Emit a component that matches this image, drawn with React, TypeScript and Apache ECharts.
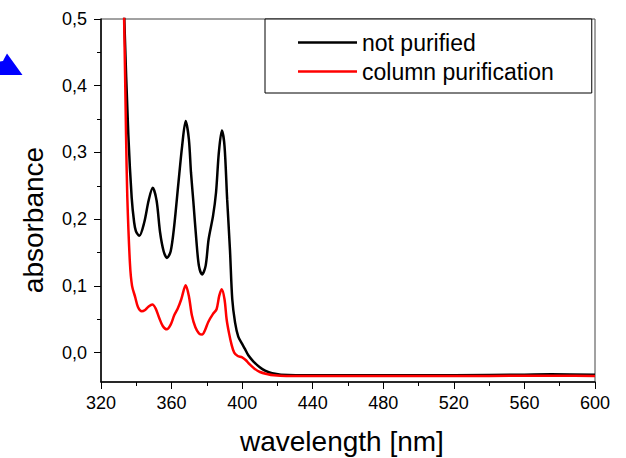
import React, { useEffect, useRef } from "react";
import * as echarts from "echarts";

const FONT = "'Liberation Sans', Arial, Helvetica, sans-serif";

const seriesNames = ["not purified", "column purification"];

const notPurifiedX = [332.0, 333.2, 335.5, 337.4, 338.8, 339.8, 341.7, 344.5, 347.0, 349.3, 351.5, 353.5, 355.5, 357.4, 359.5, 361.5, 363.8, 366.0, 368.0, 369.8, 371.0, 372.3, 374.0, 375.5, 377.3, 379.3, 381.0, 383.5, 385.2, 386.8, 388.5, 390.0, 391.5, 393.1, 394.4, 396.0, 397.8, 400.0, 401.5, 403.5, 406.3, 410.0, 413.0, 417.0, 422.0, 440, 480, 520, 560, 575, 600];
const notPurifiedY = [0.62, 0.5, 0.326, 0.232, 0.195, 0.182, 0.175, 0.195, 0.228, 0.247, 0.228, 0.18, 0.152, 0.142, 0.152, 0.19, 0.252, 0.31, 0.347, 0.32, 0.27, 0.228, 0.17, 0.13, 0.117, 0.13, 0.17, 0.205, 0.24, 0.3, 0.333, 0.31, 0.23, 0.154, 0.08, 0.045, 0.024, 0.013, 0.006, -0.004, -0.013, -0.022, -0.027, -0.031, -0.033, -0.034, -0.034, -0.034, -0.033, -0.0325, -0.033];

const columnX = [332.0, 333.1, 334.2, 334.9, 336.4, 337.6, 339.3, 341.0, 343.1, 345.0, 347.0, 349.1, 351.0, 353.0, 355.0, 357.3, 359.5, 361.5, 363.5, 365.5, 368.0, 369.8, 371.5, 373.5, 375.5, 377.3, 379.0, 380.8, 383.5, 385.5, 387.0, 388.4, 390.0, 391.2, 392.5, 394.0, 395.5, 397.5, 400.0, 402.0, 404.0, 407.0, 410.1, 414.0, 418.0, 425, 480, 540, 565, 580, 600];
const columnY = [0.6, 0.5, 0.326, 0.234, 0.134, 0.1, 0.084, 0.068, 0.062, 0.064, 0.069, 0.072, 0.066, 0.052, 0.04, 0.035, 0.042, 0.056, 0.066, 0.08, 0.101, 0.085, 0.056, 0.038, 0.029, 0.027, 0.034, 0.046, 0.058, 0.065, 0.085, 0.095, 0.08, 0.05, 0.03, 0.012, 0.0, -0.005, -0.007, -0.011, -0.017, -0.024, -0.029, -0.032, -0.034, -0.035, -0.035, -0.035, -0.0345, -0.0345, -0.035];

const yMajorTicks = [0, 0.1, 0.2, 0.3, 0.4, 0.5];
const yMinorTicks = [0.05, 0.15, 0.25, 0.35, 0.45];

const zip = (xs: number[], ys: number[]) => xs.map((x, i) => [x, ys[i]]);

export default function App() {
  const ref = useRef<HTMLDivElement>(null);
  useEffect(() => {
    if (!ref.current) return;
    const chart = echarts.init(ref.current, null, { renderer: "svg" });
    chart.setOption({
      animation: false,
      backgroundColor: "#fff",
      grid: {
        left: 101,
        top: 19,
        width: 494,
        height: 363,
        show: true,
        borderColor: "#444",
        borderWidth: 1,
        backgroundColor: "transparent",
      },
      xAxis: {
        type: "value",
        min: 320,
        max: 600,
        interval: 40,
        axisLine: { show: true, onZero: false, lineStyle: { color: "#000", width: 1.5 } },
        axisTick: { show: true, length: 7, lineStyle: { color: "#000", width: 1 } },
        minorTick: { show: true, splitNumber: 2, length: 4, lineStyle: { color: "#000", width: 1 } },
        axisLabel: { fontSize: 18, color: "#000", fontFamily: FONT, margin: 12 },
        splitLine: { show: false },
      },
      yAxis: [
        {
          type: "value",
          min: -0.044,
          max: 0.5,
          position: "left",
          axisLine: { show: true, onZero: false, lineStyle: { color: "#000", width: 1.5 } },
          axisTick: { show: true, length: 7, customValues: yMajorTicks, lineStyle: { color: "#000", width: 1 } },
          axisLabel: {
            customValues: yMajorTicks,
            fontSize: 18,
            color: "#000",
            fontFamily: FONT,
            margin: 14,
            formatter: (v: number) => v.toFixed(1).replace(".", ","),
          },
          splitLine: { show: false },
        },
        {
          type: "value",
          min: -0.044,
          max: 0.5,
          position: "left",
          axisLine: { show: false },
          axisTick: { show: true, length: 4, customValues: yMinorTicks, lineStyle: { color: "#000", width: 1 } },
          axisLabel: { show: false },
          splitLine: { show: false },
        },
      ],
      legend: {
        show: true,
        orient: "vertical",
        left: 265,
        top: 19,
        padding: [12, 38, 10, 33],
        icon: "rect",
        itemWidth: 59,
        itemHeight: 2.5,
        itemGap: 6,
        borderColor: "#000",
        borderWidth: 1,
        backgroundColor: "#fff",
        textStyle: { fontSize: 23, color: "#000", fontFamily: FONT, height: 22, lineHeight: 22 },
        data: seriesNames,
      },
      series: [
        {
          name: seriesNames[0],
          type: "line",
          data: zip(notPurifiedX, notPurifiedY),
          showSymbol: false,
          symbol: "none",
          smooth: 0.3,
          lineStyle: { color: "#000", width: 2.5 },
          itemStyle: { color: "#000" },
          clip: true,
        },
        {
          name: seriesNames[1],
          type: "line",
          data: zip(columnX, columnY),
          showSymbol: false,
          symbol: "none",
          smooth: 0.3,
          lineStyle: { color: "#ff0000", width: 2.5 },
          itemStyle: { color: "#ff0000" },
          clip: true,
        },
      ],
      graphic: [
        {
          type: "text",
          left: 240,
          top: 427,
          style: { text: "wavelength [nm]", fontSize: 28, fill: "#000", fontFamily: FONT },
        },
        {
          type: "text",
          x: 33,
          y: 220,
          rotation: Math.PI / 2,
          style: {
            text: "absorbance",
            fontSize: 28,
            fill: "#000",
            fontFamily: FONT,
            align: "center",
            verticalAlign: "middle",
          },
        },
        {
          type: "polygon",
          shape: { points: [[0, 75], [0, 61.5], [3, 61], [4.5, 58], [7, 53.5], [22.5, 75]] },
          style: { fill: "#0000ff" },
        },
      ],
    });
    return () => chart.dispose();
  }, []);
  return (
    <div
      ref={ref}
      style={{ position: "fixed", left: 0, top: 0, width: 626, height: 458 }}
    />
  );
}
